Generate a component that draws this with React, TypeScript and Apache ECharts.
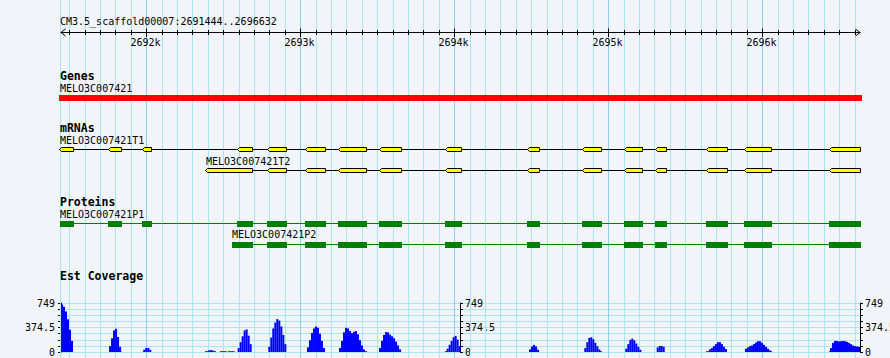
import React, { useEffect, useRef } from 'react';
import * as echarts from 'echarts';

// ---------------- data ----------------
const regionName = 'CM3.5_scaffold00007';
const regionStart = 2691444;
const regionEnd = 2696632;

const rulerMajorTicks = [2692000, 2693000, 2694000, 2695000, 2696000];
const rulerMajorLabels = ['2692k', '2693k', '2694k', '2695k', '2696k'];
const rulerMinorStep = 100;

const trackTitles = ['Genes', 'mRNAs', 'Proteins', 'Est Coverage'];

const geneName = 'MELO3C007421';
const geneStart = 2691444;
const geneEnd = 2696632;

const t1Name = 'MELO3C007421T1';
const t1ExonStarts = [2691444, 2691762, 2691983, 2692600, 2692796, 2693043, 2693256, 2693520, 2693952, 2694483, 2694842, 2695112, 2695312, 2695643, 2695890, 2696442];
const t1ExonEnds = [2691520, 2691832, 2692026, 2692682, 2692903, 2693156, 2693422, 2693650, 2694039, 2694546, 2694948, 2695214, 2695370, 2695766, 2696052, 2696632];

const t2Name = 'MELO3C007421T2';
const t2ExonStarts = [2692390, 2692796, 2693043, 2693256, 2693520, 2693952, 2694483, 2694842, 2695112, 2695312, 2695643, 2695890, 2696442];
const t2ExonEnds = [2692682, 2692903, 2693156, 2693422, 2693650, 2694039, 2694546, 2694948, 2695214, 2695370, 2695766, 2696052, 2696632];

const p1Name = 'MELO3C007421P1';
const p1CdsStarts = [2691444, 2691756, 2691978, 2692594, 2692790, 2693037, 2693250, 2693514, 2693946, 2694477, 2694836, 2695106, 2695306, 2695637, 2695884, 2696436];
const p1CdsEnds = [2691520, 2691832, 2692026, 2692682, 2692903, 2693156, 2693422, 2693650, 2694039, 2694546, 2694948, 2695214, 2695370, 2695766, 2696052, 2696632];

const p2Name = 'MELO3C007421P2';
const p2CdsStarts = [2692563, 2692790, 2693037, 2693250, 2693514, 2693946, 2694477, 2694836, 2695106, 2695306, 2695637, 2695884, 2696436];
const p2CdsEnds = [2692682, 2692903, 2693156, 2693422, 2693650, 2694039, 2694546, 2694948, 2695214, 2695370, 2695766, 2696052, 2696632];

const covMax = 749;
const covAxisLabels = [0, 374.5, 749];
const covBinWidth = 13;
const covPeakStarts = [2691444, 2691756, 2691978, 2692400, 2692591, 2692790, 2693041, 2693249, 2693509, 2693948, 2694483, 2694842, 2695108, 2695312, 2695651, 2695885, 2696437];
const covPeakValues = [
  [727, 690, 620, 500, 340, 170],
  [90, 210, 330, 355, 230, 80],
  [35, 62, 62, 35],
  [25, 30, 20],
  [60, 150, 240, 330, 345, 250, 120],
  [80, 220, 360, 450, 503, 480, 390, 260, 120],
  [70, 180, 290, 360, 390, 370, 280, 170, 60],
  [60, 170, 300, 370, 360, 320, 290, 310, 320, 270, 180, 100, 40],
  [60, 170, 260, 305, 300, 265, 240, 210, 160, 100, 40],
  [50, 110, 170, 225, 246, 190, 90],
  [40, 85, 108, 85, 35],
  [60, 150, 215, 226, 195, 140, 90, 40],
  [50, 120, 185, 205, 180, 130, 80, 35],
  [70, 92, 92, 80],
  [40, 60, 90, 120, 150, 150, 120, 80, 45],
  [50, 70, 90, 100, 120, 145, 165, 165, 140, 110, 80, 50, 25],
  [60, 140, 170, 168, 162, 165, 168, 165, 155, 140, 120, 100, 90, 85, 80],
];
const lowCovStarts = [2691824, 2692379, 2692476, 2692528, 2693418, 2693937, 2694944, 2695632, 2696048, 2696431];
const lowCovEnds = [2691837, 2692450, 2692520, 2692572, 2693431, 2693950, 2694957, 2695658, 2696061, 2696444];
const lowCovValue = 15;

// ---------------- style / layout ----------------
const W = 890;
const H = 358;
const FONT = '"DejaVu Sans Mono", "Liberation Mono", monospace';
const REG = `10px ${FONT}`;
const BOLD = `bold 11.5px ${FONT}`;
const BG = '#F1F5FA';
const GRID_MINOR = '#A9E6EE';
const GRID_MAJOR = '#8ACFEE';

const Y = {
  title: 21, ruler: 32.5, tickLabel: 42,
  genesTitle: 76, geneLabel: 88.7, geneBarTop: 95,
  mrnaTitle: 128, t1Label: 140.5, t1Line: 149.5, t2Label: 161.2, t2Line: 170.5,
  protTitle: 201.7, p1Label: 214.2, p1Line: 223.5, p2Label: 234.8, p2Line: 244.5,
  covTitle: 276,
};

const txt = (text: string, x: number, y: number, font: string, align = 'left') => ({
  type: 'text',
  style: { text, x, y, font, fill: '#000', textAlign: align, align, textVerticalAlign: 'middle', verticalAlign: 'middle' },
});

function buildOption() {
  const minorTicks: number[] = [];
  for (let t = Math.ceil(regionStart / rulerMinorStep) * rulerMinorStep; t <= regionEnd; t += rulerMinorStep) minorTicks.push(t);
  const gridTicks = [regionStart, ...minorTicks];

  const gridSeries = {
    type: 'custom', xAxisIndex: 0, yAxisIndex: 0, z: 1, silent: true,
    data: gridTicks.map((t) => [t, 0]),
    encode: { x: 0, y: 1 },
    renderItem: (params: any, api: any) => {
      const v = api.value(0);
      let x = Math.floor(api.coord([v, 0])[0]) + 0.5;
      if (v === regionStart) x -= 1;
      const major = rulerMajorTicks.indexOf(v) >= 0;
      return { type: 'line', shape: { x1: x, y1: 0, x2: x, y2: H }, style: { stroke: major ? GRID_MAJOR : GRID_MINOR, lineWidth: 1 } };
    },
  };

  const rulerSeries = {
    type: 'custom', xAxisIndex: 0, yAxisIndex: 0, z: 4, silent: true,
    data: minorTicks.map((t) => [t, 0]),
    encode: { x: 0, y: 1 },
    renderItem: (params: any, api: any) => {
      const v = api.value(0);
      const x = Math.floor(api.coord([v, 0])[0]) + 0.5;
      const mi = rulerMajorTicks.indexOf(v);
      const children: any[] = [];
      if (params.dataIndex === 0) {
        const a = Math.floor(api.coord([regionStart, 0])[0]) - 0.5;
        const b = Math.ceil(api.coord([regionEnd, 0])[0]) + 0.5;
        const y = Y.ruler;
        children.push({ type: 'line', shape: { x1: a, y1: y, x2: b, y2: y }, style: { stroke: '#000', lineWidth: 1 } });
        children.push({ type: 'polyline', shape: { points: [[a + 5, y - 3.5], [a + 0.5, y], [a + 5, y + 3.5]] }, style: { stroke: '#000', lineWidth: 1, fill: 'none' } });
        children.push({ type: 'polyline', shape: { points: [[b - 5, y - 3.5], [b - 0.5, y], [b - 5, y + 3.5]] }, style: { stroke: '#000', lineWidth: 1, fill: 'none' } });
      }
      if (mi >= 0) {
        children.push({ type: 'line', shape: { x1: x, y1: 28.5, x2: x, y2: 37 }, style: { stroke: '#000', lineWidth: 1 } });
        children.push(txt(rulerMajorLabels[mi], x - 1, Y.tickLabel, REG, 'center'));
      } else {
        children.push({ type: 'line', shape: { x1: x, y1: 30, x2: x, y2: 35 }, style: { stroke: '#000', lineWidth: 1 } });
      }
      return { type: 'group', children };
    },
  };

  const geneSeries = {
    type: 'custom', xAxisIndex: 0, yAxisIndex: 0, z: 3, silent: true,
    data: [[geneStart, geneEnd]],
    encode: { x: [0, 1] },
    renderItem: (params: any, api: any) => {
      const x0 = Math.round(api.coord([api.value(0), 0])[0]) - 2;
      const x1 = Math.round(api.coord([api.value(1), 0])[0]) + 2;
      return {
        type: 'group',
        children: [
          { type: 'rect', shape: { x: x0, y: Y.geneBarTop, width: x1 - x0, height: 6 }, style: { fill: '#FF0000' } },
          txt(geneName, x0 + 1, Y.geneLabel, REG),
        ],
      };
    },
  };

  const mrnaSeries = (name: string, starts: number[], ends: number[], lineY: number, labelY: number) => ({
    type: 'custom', xAxisIndex: 0, yAxisIndex: 0, z: 3, silent: true,
    data: starts.map((s, i) => [s, ends[i]]),
    encode: { x: [0, 1] },
    renderItem: (params: any, api: any) => {
      const x0 = Math.round(api.coord([api.value(0), 0])[0]) - 1.5;
      const x1 = Math.round(api.coord([api.value(1), 0])[0]) + 0.5;
      const yt = lineY - 2;
      const yb = lineY + 2;
      const exon = {
        type: 'polygon',
        shape: { points: [[x0, lineY], [x0 + 2, yt], [x1, yt], [x1, yb], [x0 + 2, yb]] },
        style: { fill: '#FFFF00', stroke: '#000', lineWidth: 1 },
      };
      if (params.dataIndex !== 0) return exon;
      const lx0 = Math.round(api.coord([starts[0], 0])[0]) - 2;
      const lx1 = Math.round(api.coord([ends[ends.length - 1], 0])[0]) + 1;
      return {
        type: 'group',
        children: [
          { type: 'line', shape: { x1: lx0, y1: lineY, x2: lx1, y2: lineY }, style: { stroke: '#000', lineWidth: 1 } },
          txt(name, lx0 + 1, labelY, REG),
          exon,
        ],
      };
    },
  });

  const protSeries = (name: string, starts: number[], ends: number[], lineY: number, labelY: number) => ({
    type: 'custom', xAxisIndex: 0, yAxisIndex: 0, z: 3, silent: true,
    data: starts.map((s, i) => [s, ends[i]]),
    encode: { x: [0, 1] },
    renderItem: (params: any, api: any) => {
      const x0 = Math.round(api.coord([api.value(0), 0])[0]) - 1;
      const x1 = Math.round(api.coord([api.value(1), 0])[0]) + 1;
      const box = { type: 'rect', shape: { x: x0, y: lineY - 2.5, width: x1 - x0, height: 6 }, style: { fill: '#008000' } };
      if (params.dataIndex !== 0) return box;
      const lx0 = Math.round(api.coord([starts[0], 0])[0]) - 1;
      const lx1 = Math.round(api.coord([ends[ends.length - 1], 0])[0]) + 1;
      return {
        type: 'group',
        children: [
          { type: 'line', shape: { x1: lx0, y1: lineY, x2: lx1, y2: lineY }, style: { stroke: '#008000', lineWidth: 1 } },
          txt(name, lx0, labelY, REG),
          box,
        ],
      };
    },
  });

  const covBins: number[][] = [];
  lowCovStarts.forEach((s, i) => covBins.push([s, lowCovEnds[i], lowCovValue, 1]));
  covPeakStarts.forEach((s, p) =>
    covPeakValues[p].forEach((v, i) => covBins.push([s + i * covBinWidth, s + (i + 1) * covBinWidth, v, 0]))
  );

  const covSeries = {
    type: 'custom', xAxisIndex: 1, yAxisIndex: 1, z: 3, silent: true,
    data: covBins,
    encode: { x: [0, 1], y: 2 },
    renderItem: (params: any, api: any) => {
      const p0 = api.coord([api.value(0), api.value(2)]);
      const p1 = api.coord([api.value(1), 0]);
      return {
        type: 'rect',
        shape: { x: p0[0], y: p0[1], width: p1[0] - p0[0], height: p1[1] - p0[1] },
        style: { fill: api.value(3) === 1 ? '#FF0000' : '#0000FF' },
      };
    },
  };

  const covLabelFmt = (v: number) => (covAxisLabels.some((l) => Math.abs(l - v) < 1e-6) ? String(v) : '');
  const covAxisBase = {
    type: 'value', gridIndex: 1, min: 0, max: covMax, interval: covMax / 8,
    axisLine: { show: true, lineStyle: { color: '#000', width: 1 } },
    axisTick: { show: true, length: 3, lineStyle: { color: '#000', width: 1 } },
    axisLabel: { show: true, formatter: covLabelFmt, color: '#000', fontFamily: FONT, fontSize: 10, margin: 5 },
    splitLine: { show: false },
  };

  return {
    animation: false,
    backgroundColor: BG,
    grid: [
      { left: 61, top: 0, width: 799, height: H, containLabel: false, outerBoundsMode: 'none' },
      { left: 61, top: 303, width: 799, height: 49, containLabel: false, outerBoundsMode: 'none' },
    ],
    xAxis: [
      { type: 'value', gridIndex: 0, min: regionStart, max: regionEnd, show: false },
      { type: 'value', gridIndex: 1, min: regionStart, max: regionEnd, show: false },
    ],
    yAxis: [
      { type: 'value', gridIndex: 0, min: 0, max: H, inverse: true, show: false },
      {
        ...covAxisBase, position: 'left', offset: 0,
        axisLabel: { ...covAxisBase.axisLabel, margin: 6 },
        splitLine: { show: true, lineStyle: { color: GRID_MINOR, width: 1, opacity: 1 } },
      },
      { ...covAxisBase, position: 'right', offset: -400 },
      { ...covAxisBase, position: 'right', offset: 0 },
    ],
    graphic: [
      { ...txt(`${regionName}:${regionStart}..${regionEnd}`, 60, Y.title, REG), z: 10, silent: true },
      { ...txt(trackTitles[0], 60, Y.genesTitle, BOLD), z: 10, silent: true },
      { ...txt(trackTitles[1], 60, Y.mrnaTitle, BOLD), z: 10, silent: true },
      { ...txt(trackTitles[2], 60, Y.protTitle, BOLD), z: 10, silent: true },
      { ...txt(trackTitles[3], 60, Y.covTitle, BOLD), z: 10, silent: true },
    ],
    series: [
      gridSeries,
      rulerSeries,
      geneSeries,
      mrnaSeries(t1Name, t1ExonStarts, t1ExonEnds, Y.t1Line, Y.t1Label),
      mrnaSeries(t2Name, t2ExonStarts, t2ExonEnds, Y.t2Line, Y.t2Label),
      protSeries(p1Name, p1CdsStarts, p1CdsEnds, Y.p1Line, Y.p1Label),
      protSeries(p2Name, p2CdsStarts, p2CdsEnds, Y.p2Line, Y.p2Label),
      covSeries,
    ],
  };
}

export default function App() {
  const ref = useRef<HTMLDivElement>(null);
  useEffect(() => {
    if (!ref.current) return;
    const chart = echarts.init(ref.current, undefined, { renderer: 'svg', width: W, height: H });
    chart.setOption(buildOption() as any);
    return () => chart.dispose();
  }, []);
  return <div ref={ref} style={{ position: 'absolute', left: 0, top: 0, width: W, height: H }} />;
}
